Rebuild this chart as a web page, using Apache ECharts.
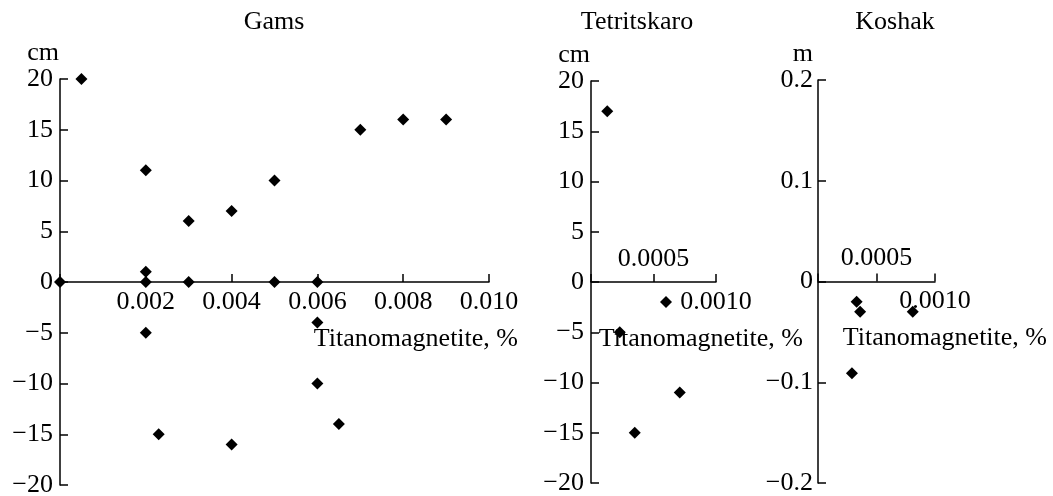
<!DOCTYPE html>
<html>
<head>
<meta charset="utf-8">
<script src="https://cdn.jsdelivr.net/npm/echarts@6/dist/echarts.min.js"></script>
<style>
html, body { margin: 0; padding: 0; background: #fff; }
#chart { width: 1053px; height: 496px; }
</style>
</head>
<body>
<div id="chart"></div>
<script>
// values
var gamsX = [0, 0.0005, 0.002, 0.002, 0.002, 0.002, 0.0023, 0.003, 0.003, 0.004, 0.004, 0.005, 0.005, 0.006, 0.006, 0.006, 0.0065, 0.007, 0.008, 0.009];
var gamsY = [0, 20, 11, 1, 0, -5, -15, 6, 0, 7, -16, 10, 0, 0, -4, -10, -14, 15, 16, 16];

var tetrX = [0.00013, 0.00023, 0.00035, 0.0006, 0.00071];
var tetrY = [17, -5, -15, -2, -11];

var koshX = [0.00029, 0.00033, 0.00036, 0.00081];
var koshY = [-0.091, -0.02, -0.03, -0.03];

var titles = ['Gams', 'Tetritskaro', 'Koshak'];
var units = ['cm', 'cm', 'm'];
var xName = 'Titanomagnetite, %';
var smallLabelsAbove = ['0.0005'];
var smallLabelsBelow = ['0.0010'];

var FONT = 'Liberation Serif';
var FS = 26;
var BLACK = '#000';

function pairs(xs, ys) {
    var out = [];
    for (var i = 0; i < xs.length; i++) out.push([xs[i], ys[i]]);
    return out;
}
function minus(s) { return String(s).replace('-', '\u2212'); }

var grids = [
    { left: 60, top: 79, width: 429, height: 406 },
    { left: 591, top: 81, width: 125, height: 402 },
    { left: 818, top: 80, width: 117, height: 403 }
];
grids.forEach(function (g) { g.outerBoundsMode = 'none'; g.containLabel = false; });

function yAxis(grid, unit, lim, step, digits, margin, namePad) {
    return {
        type: 'value', gridIndex: grid, min: -lim, max: lim, interval: step,
        name: unit, nameLocation: 'end', nameGap: 11,
        nameTextStyle: { fontFamily: FONT, fontSize: FS, color: BLACK, align: 'right', verticalAlign: 'bottom', padding: [0, namePad, 0, 0] },
        axisLine: { show: true, onZero: false, lineStyle: { color: BLACK, width: 1.5 } },
        axisTick: { show: true, inside: true, length: 8, lineStyle: { color: BLACK, width: 1.5 } },
        splitLine: { show: false },
        axisLabel: { fontFamily: FONT, fontSize: FS, color: BLACK, margin: margin, showMinLabel: true, showMaxLabel: true,
            formatter: function (v) { return v === 0 ? '0' : minus(v.toFixed(digits)); } }
    };
}

// y ranges are symmetric, so zero sits half way up: shift the x axis there
function xAxisMain(grid, max, step, gap, fmt) {
    return {
        type: 'value', gridIndex: grid, min: 0, max: max, interval: step, position: 'bottom',
        offset: -grids[grid].height / 2,
        name: xName, nameLocation: 'end', nameGap: gap,
        nameTextStyle: { fontFamily: FONT, fontSize: FS, color: BLACK, align: 'right', verticalAlign: 'top', padding: [44, 0, 0, 0] },
        axisLine: { show: true, onZero: false, lineStyle: { color: BLACK, width: 1.5 } },
        axisTick: { show: true, inside: true, length: 8, lineStyle: { color: BLACK, width: 1.5 } },
        splitLine: { show: false },
        axisLabel: { fontFamily: FONT, fontSize: FS, color: BLACK, margin: 7, hideOverlap: false, showMinLabel: true, showMaxLabel: true, formatter: fmt }
    };
}

function xAxisTop(grid, max, step) {
    return {
        type: 'value', gridIndex: grid, min: 0, max: max, interval: step, position: 'top',
        offset: -grids[grid].height / 2,
        axisLine: { show: false, onZero: false },
        axisTick: { show: false },
        splitLine: { show: false },
        axisLabel: { fontFamily: FONT, fontSize: FS, color: BLACK, margin: 10, hideOverlap: false, showMinLabel: true, showMaxLabel: true,
            formatter: function (v) { var s = v.toFixed(4); return smallLabelsAbove.indexOf(s) >= 0 ? s : ''; } }
    };
}

var belowSmall = function (v) { var s = v.toFixed(4); return smallLabelsBelow.indexOf(s) >= 0 ? s : ''; };

function scatter(xi, yi, data) {
    return { type: 'scatter', xAxisIndex: xi, yAxisIndex: yi, data: data, symbol: 'diamond', symbolSize: 12,
        itemStyle: { color: BLACK, opacity: 1 }, silent: true };
}

var titleX = [274, 637, 895];
var graphics = titles.map(function (t, i) {
    return { type: 'text', x: titleX[i], y: 22, style: { text: t, font: FS + 'px "' + FONT + '"', fill: BLACK, align: 'center', verticalAlign: 'middle' } };
});

var myChart = echarts.init(document.getElementById('chart'));
var option = {
    animation: false,
    backgroundColor: '#fff',
    textStyle: { fontFamily: FONT, fontSize: FS, color: BLACK },
    grid: grids,
    graphic: graphics,
    xAxis: [
        xAxisMain(0, 0.01, 0.002, 29, function (v) { return v === 0 ? '' : v.toFixed(3); }),
        xAxisMain(1, 0.001, 0.0005, 87, belowSmall),
        xAxisTop(1, 0.001, 0.0005),
        xAxisMain(2, 0.001, 0.0005, 112, belowSmall),
        xAxisTop(2, 0.001, 0.0005)
    ],
    yAxis: [
        yAxis(0, units[0], 20, 5, 0, 7, 1),
        yAxis(1, units[1], 20, 5, 0, 7, 1),
        yAxis(2, units[2], 0.2, 0.1, 1, 5, 5)
    ],
    series: [
        scatter(0, 0, pairs(gamsX, gamsY)),
        scatter(1, 1, pairs(tetrX, tetrY)),
        scatter(3, 2, pairs(koshX, koshY))
    ]
};
myChart.setOption(option);
</script>
</body>
</html>
